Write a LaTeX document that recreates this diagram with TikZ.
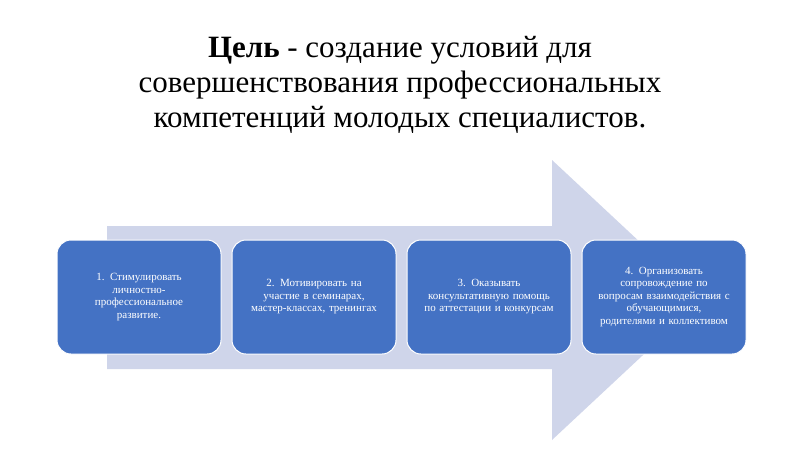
\documentclass[tikz,border=0pt]{standalone}
\usepackage{fontspec}
\setmainfont{Liberation Serif}
\usetikzlibrary{positioning}
\tikzset{
  stage/.style={fill=blue!55!cyan!60!black!90, fill=stagecol, draw=white, line width=1pt,
    rounded corners=14pt, minimum width=164pt, minimum height=114pt,
    text width=150pt, align=center, text=white, font=\fontsize{11}{12.5}\selectfont},
}
\definecolor{stagecol}{RGB}{68,114,196}
\definecolor{arrowcol}{RGB}{207,213,234}
\begin{document}
\begin{tikzpicture}[x=1pt,y=-1pt]
\useasboundingbox (0,0) rectangle (800,450);

% Title
\node (title) at (400,85) [align=center, font=\fontsize{31}{35}\selectfont]
  {\textbf{Цель} - создание условий для\\совершенствования профессиональных\\компетенций молодых специалистов.};

% Background arrow
\fill[arrowcol] (107,226) -- (552,226) -- (552,160) -- (702,300) -- (552,440) -- (552,369) -- (107,369) -- cycle;

% Stages
\node[stage] (s1) at (139,297) {1. Стимулировать\\личностно-\\профессиональное\\развитие.};
\node[stage, right=10pt of s1] (s2) {2. Мотивировать на\\участие в семинарах,\\мастер-классах, тренингах};
\node[stage, right=10pt of s2] (s3) {3. Оказывать\\консультативную помощь\\по аттестации и конкурсам};
\node[stage, right=10pt of s3] (s4) {4. Организовать\\сопровождение по\\вопросам взаимодействия с\\обучающимися,\\родителями и коллективом};

\end{tikzpicture}
\end{document}
